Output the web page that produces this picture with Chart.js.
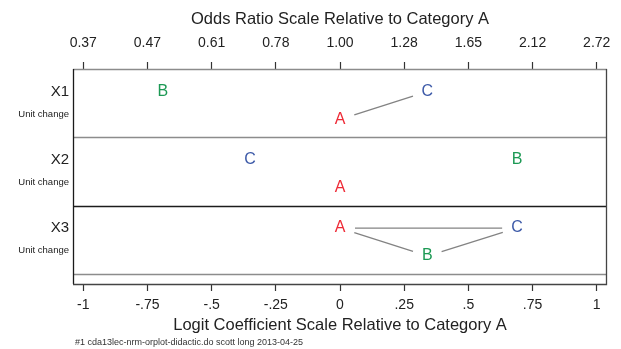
<!DOCTYPE html>
<html>
<head>
<meta charset="utf-8">
<script src="https://cdn.jsdelivr.net/npm/chart.js@4.4.1/dist/chart.umd.min.js"></script>
<style>
  html, body { margin: 0; padding: 0; background: #ffffff; }
  #wrap { width: 621px; height: 349px; }
</style>
</head>
<body>
<div id="wrap"><canvas id="c" width="621" height="349"></canvas></div>
<script>
// Variables (rows) and outcome categories
const variables = ['X1', 'X2', 'X3'];
const changeLabel = 'Unit change';
const categories = ['A', 'B', 'C'];

// Logit coefficients relative to category A
const coefA = [0, 0, 0];
const coefB = [-0.69, 0.69, 0.34];
const coefC = [0.34, -0.35, 0.69];

// Pairs whose contrast is not significant, joined by a line
const links = [
  [['A', 'C']],
  [],
  [['A', 'C'], ['A', 'B'], ['B', 'C']]
];

// Axis ticks
const logitTicks = [-1, -0.75, -0.5, -0.25, 0, 0.25, 0.5, 0.75, 1];
const logitTickLabels = ['-1', '-.75', '-.5', '-.25', '0', '.25', '.5', '.75', '1'];
const oddsTickLabels = ['0.37', '0.47', '0.61', '0.78', '1.00', '1.28', '1.65', '2.12', '2.72'];

const topTitle = 'Odds Ratio Scale Relative to Category A';
const bottomTitle = 'Logit Coefficient Scale Relative to Category A';
const footnote = '#1 cda13lec-nrm-orplot-didactic.do scott long 2013-04-25';

const FONT = "'Liberation Sans', Arial, Helvetica, sans-serif";
const catColors = { A: '#ee2a36', B: '#1c9954', C: '#3d5aa8' };
const coefs = { A: coefA, B: coefB, C: coefC };

// vertical offsets inside a row: upper and lower letter level
const LEVEL = [0.33, 0.74];

// letters are staggered: sorted by coefficient, alternating upper / lower
function levelOf(cat, row) {
  const order = categories.slice().sort((a, b) => coefs[a][row] - coefs[b][row]);
  return order.indexOf(cat) % 2;
}

const orPlot = {
  id: 'orPlot',
  beforeDatasetsDraw(chart) {
    const { ctx, chartArea: a, scales: { y } } = chart;
    ctx.save();
    // row separators
    ctx.lineWidth = 1.3;
    for (let r = 0; r <= variables.length; r++) {
      const py = Math.round(y.getPixelForValue(r)) + 0.5;
      ctx.strokeStyle = r === 2 ? '#1c1c1c' : '#8c8c8c';
      ctx.beginPath();
      ctx.moveTo(a.left, py);
      ctx.lineTo(a.right, py);
      ctx.stroke();
    }
    // frame
    ctx.strokeStyle = '#1a1a1a';
    ctx.beginPath();
    ctx.moveTo(a.left + 0.5, a.top);
    ctx.lineTo(a.left + 0.5, a.bottom);
    ctx.stroke();
    ctx.strokeStyle = '#444444';
    ctx.beginPath();
    ctx.moveTo(a.right - 0.5, a.top);
    ctx.lineTo(a.right - 0.5, a.bottom + 0.5);
    ctx.lineTo(a.left, a.bottom + 0.5);
    ctx.stroke();

    // connecting lines between letters
    ctx.strokeStyle = '#838383';
    ctx.lineWidth = 1.3;
    const gap = 15;
    links.forEach((pairs, row) => {
      pairs.forEach(([p, q]) => {
        const e1 = chart.getDatasetMeta(categories.indexOf(p)).data[row];
        const e2 = chart.getDatasetMeta(categories.indexOf(q)).data[row];
        const dx = e2.x - e1.x, dy = e2.y - e1.y;
        const len = Math.hypot(dx, dy);
        ctx.beginPath();
        ctx.moveTo(e1.x + dx / len * gap, e1.y + dy / len * gap);
        ctx.lineTo(e2.x - dx / len * gap, e2.y - dy / len * gap);
        ctx.stroke();
      });
    });
    ctx.restore();
  },
  afterDatasetsDraw(chart) {
    const { ctx } = chart;
    ctx.save();
    ctx.font = '16px ' + FONT;
    ctx.textAlign = 'center';
    ctx.textBaseline = 'middle';
    categories.forEach((cat, di) => {
      ctx.fillStyle = catColors[cat];
      chart.getDatasetMeta(di).data.forEach(el => {
        ctx.fillText(cat, el.x, el.y);
      });
    });
    ctx.restore();
  },
  afterDraw(chart) {
    const { ctx, chartArea: a } = chart;
    ctx.save();
    ctx.font = '9px ' + FONT;
    ctx.fillStyle = '#333333';
    ctx.textAlign = 'left';
    ctx.textBaseline = 'middle';
    ctx.fillText(footnote, a.left + 2, chart.height - 6.5);
    ctx.restore();
  }
};

new Chart(document.getElementById('c'), {
  type: 'scatter',
  data: {
    datasets: categories.map(cat => ({
      label: cat,
      data: variables.map((v, i) => ({ x: coefs[cat][i], y: i + LEVEL[levelOf(cat, i)] })),
      pointRadius: 0,
      pointHoverRadius: 0,
      showLine: false
    }))
  },
  options: {
    responsive: false,
    devicePixelRatio: 1,
    animation: false,
    events: [],
    layout: { padding: { left: 0, right: 14, top: 0, bottom: 0 } },
    plugins: { legend: { display: false }, tooltip: { enabled: false } },
    scales: {
      x: {
        type: 'linear',
        position: 'bottom',
        min: -1.04,
        max: 1.04,
        afterBuildTicks(s) { s.ticks = logitTicks.map(v => ({ value: v })); },
        ticks: {
          autoSkip: false, maxRotation: 0, padding: 6, color: '#222222',
          font: { family: FONT, size: 14 },
          callback: (v, i) => logitTickLabels[i]
        },
        grid: { display: true, drawOnChartArea: false, drawTicks: true, tickLength: 7, color: '#333333', tickWidth: 1.2 },
        border: { display: false },
        title: {
          display: true, text: bottomTitle, color: '#222222',
          font: { family: FONT, size: 16.5 }, padding: { top: 0, bottom: 14 }
        },
        afterFit(s) { s.height = 65; }
      },
      x2: {
        type: 'linear',
        position: 'top',
        min: -1.04,
        max: 1.04,
        afterBuildTicks(s) { s.ticks = logitTicks.map(v => ({ value: v })); },
        ticks: {
          autoSkip: false, maxRotation: 0, padding: 10, color: '#222222',
          font: { family: FONT, size: 14 },
          callback: (v, i) => oddsTickLabels[i]
        },
        grid: { display: true, drawOnChartArea: false, drawTicks: true, tickLength: 7, color: '#333333', tickWidth: 1.2 },
        border: { display: false },
        title: {
          display: true, text: topTitle, color: '#222222',
          font: { family: FONT, size: 16.5 }, padding: { top: 10, bottom: 0 }
        },
        afterFit(s) { s.height = 69; }
      },
      y: {
        type: 'linear',
        min: 0,
        max: 3.15,
        reverse: true,
        afterBuildTicks(s) {
          s.ticks = variables.flatMap((v, i) => [{ value: i + 0.33 }, { value: i + 0.66 }]);
        },
        ticks: {
          autoSkip: false, padding: 4, color: '#222222',
          font: ctx => ctx.index % 2 === 0 ? { family: FONT, size: 15 } : { family: FONT, size: 9.5 },
          callback: (v, i) => i % 2 === 0 ? variables[i >> 1] : changeLabel
        },
        grid: { display: true, drawOnChartArea: false, drawTicks: false },
        border: { display: false },
        afterFit(s) { s.width = 73; }
      }
    }
  },
  plugins: [orPlot]
});
</script>
</body>
</html>
